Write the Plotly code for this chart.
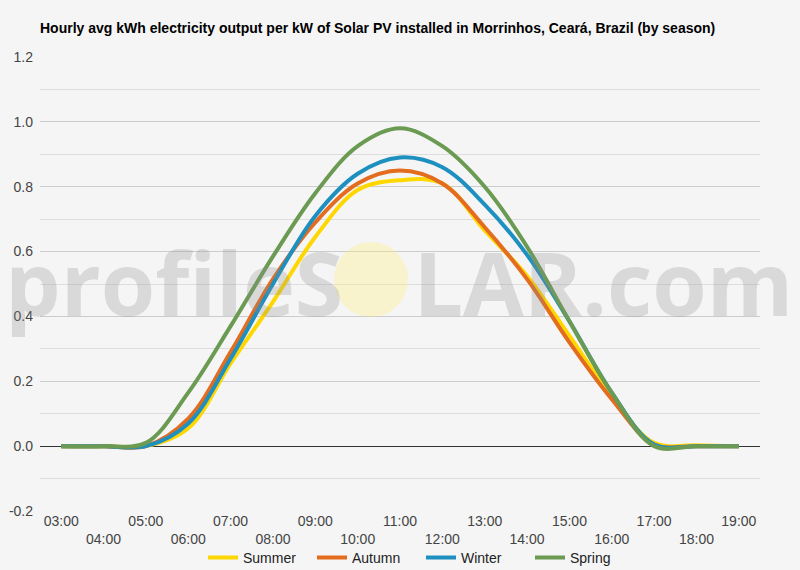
import plotly.graph_objects as go

hours = ["03:00", "04:00", "05:00", "06:00", "07:00", "08:00", "09:00", "10:00", "11:00",
         "12:00", "13:00", "14:00", "15:00", "16:00", "17:00", "18:00", "19:00"]

summer = [0.0, 0.0, 0.0, 0.055, 0.255, 0.445, 0.645, 0.79, 0.82, 0.81, 0.665, 0.525, 0.34, 0.155, 0.01, 0.003, 0.0]
autumn = [0.0, 0.0, 0.0, 0.085, 0.29, 0.515, 0.69, 0.81, 0.85, 0.81, 0.675, 0.515, 0.32, 0.145, 0.005, 0.0, 0.0]
winter = [0.0, 0.0, 0.0, 0.07, 0.27, 0.50, 0.71, 0.84, 0.89, 0.86, 0.745, 0.59, 0.385, 0.165, 0.005, 0.0, 0.0]
spring = [0.0, 0.0, 0.01, 0.165, 0.37, 0.585, 0.78, 0.925, 0.98, 0.925, 0.80, 0.615, 0.385, 0.165, 0.0, 0.0, 0.0]

series = [("Summer", summer, "#FFD700"), ("Autumn", autumn, "#E36C1F"),
          ("Winter", winter, "#1E90C0"), ("Spring", spring, "#6B9B52")]

y_ticks = [-0.2, 0.0, 0.2, 0.4, 0.6, 0.8, 1.0, 1.2]
y_labels = ["-0.2", "0.0", "0.2", "0.4", "0.6", "0.8", "1.0", "1.2"]

title = "Hourly avg kWh electricity output per kW of Solar PV installed in Morrinhos, Ceará, Brazil (by season)"

fig = go.Figure()
x_idx = list(range(len(hours)))
for name, vals, col in series:
    fig.add_trace(go.Scatter(x=x_idx, y=vals, name=name, mode="lines",
                             line=dict(color=col, width=4, shape="spline", smoothing=1.0)))

tick_text = [h if i % 2 == 0 else "<br>" + h for i, h in enumerate(hours)]

fig.update_layout(
    width=800, height=570,
    margin=dict(l=40, r=40, t=57, b=59, autoexpand=False),
    paper_bgcolor="#f5f5f5", plot_bgcolor="#f5f5f5",
    font=dict(family="Liberation Sans, Arial, sans-serif", size=14, color="#444444"),
    title=dict(text="<b>" + title + "</b>", x=40 / 800, xanchor="left",
               yref="container", y=1 - 28 / 570, yanchor="middle",
               font=dict(size=14, color="#000000")),
    showlegend=True,
    legend=dict(orientation="h", x=(203 - 40) / 720, xanchor="left", y=-0.068, yanchor="top",
                font=dict(size=14, color="#222222"), bgcolor="rgba(0,0,0,0)",
                itemwidth=30, tracegroupgap=0, entrywidth=64, entrywidthmode="pixels"),
    xaxis=dict(range=[-0.5, 16.5], tickmode="array", tickvals=x_idx, ticktext=tick_text,
               showgrid=False, zeroline=False, showline=False, ticks="", automargin=False,
               tickfont=dict(size=14, color="#444444")),
    yaxis=dict(range=[-0.2, 1.2], tickmode="array", tickvals=y_ticks, ticktext=y_labels,
               showgrid=True, gridcolor="#cccccc", gridwidth=1, automargin=False,
               zeroline=True, zerolinecolor="#333333", zerolinewidth=1,
               minor=dict(tickmode="linear", tick0=0, dtick=0.1, showgrid=True,
                          gridcolor="#dddddd", gridwidth=1),
               ticks="", ticklabelstandoff=6,
               tickfont=dict(size=14, color="#444444")),
)

# watermark sun circle
fig.add_shape(type="circle", xref="paper", yref="paper",
              x0=(334 - 40) / 720, x1=(408 - 40) / 720,
              y0=(511 - 317) / 454, y1=(511 - 242) / 454,
              fillcolor="rgba(255,238,110,0.3)", line=dict(width=0), layer="above")

fig.add_annotation(xref="paper", yref="paper", x=(399 - 40) / 720, y=(511 - 282) / 454,
                   xanchor="center", yanchor="middle", showarrow=False,
                   text="profileS<span style='color:rgba(0,0,0,0)'>O</span>LAR.com",
                   font=dict(family="Open Sans", size=88, color="rgba(140,140,140,0.26)",
                             weight="bold"))

fig.write_html("out.html", config={"displayModeBar": False},
               post_script="document.body.style.margin='0px';"
                           "document.body.style.background='#f5f5f5';")
